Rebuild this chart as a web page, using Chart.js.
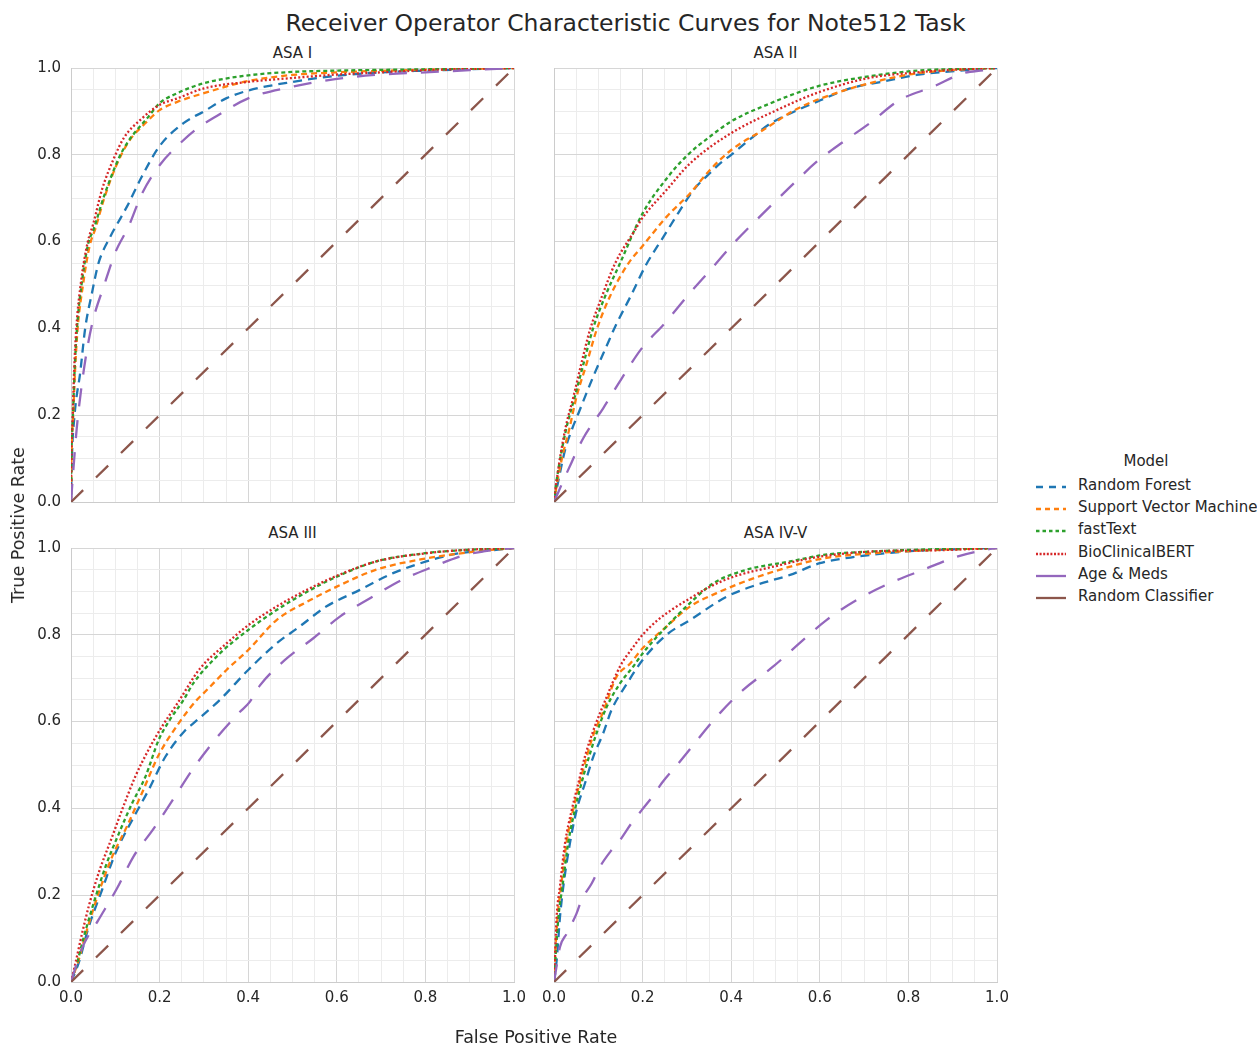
<!DOCTYPE html>
<html>
<head>
<meta charset="utf-8">
<script src="https://cdn.jsdelivr.net/npm/chart.js@4.4.1/dist/chart.umd.min.js"></script>
<style>
  body { margin: 0; background: #fff; font-family: "DejaVu Sans", sans-serif; color: #262626; }
  #fig { position: relative; width: 1257px; height: 1046px; overflow: hidden; }
  canvas { position: absolute; }
  .txt { position: absolute; white-space: nowrap; }
  #suptitle { left: 0; width: 1251px; top: 9px; text-align: center; font-size: 23.5px; }
  .sub { font-size: 15px; width: 443px; text-align: center; }
  #xlabel { left: 336px; width: 400px; top: 1027px; text-align: center; font-size: 17.5px; }
  #ylabel { left: 18px; top: 525px; font-size: 17.5px; transform: translate(-50%, -50%) rotate(-90deg); }
  #legend { position: absolute; left: 1030px; top: 452px; font-size: 15px; white-space: nowrap; }
  #legend .ttl { position: absolute; left: 86px; top: 0; width: 60px; text-align: center; }
  #legend .row { position: absolute; left: 0; height: 22px; width: 230px; }
  #legend svg { position: absolute; left: 4px; top: 4px; }
  #legend .lab { position: absolute; left: 48px; top: 0px; white-space: nowrap; }
</style>
</head>
<body>
<div id="fig">
  <div id="suptitle" class="txt">Receiver Operator Characteristic Curves for Note512 Task</div>
  <div class="txt sub" style="left:71px;top:44px">ASA I</div>
  <div class="txt sub" style="left:554px;top:44px">ASA II</div>
  <div class="txt sub" style="left:71px;top:524px">ASA III</div>
  <div class="txt sub" style="left:554px;top:524px">ASA IV-V</div>
  <canvas id="c1" width="530" height="490" style="left:0px;top:40px"></canvas>
  <canvas id="c2" width="490" height="490" style="left:530px;top:40px"></canvas>
  <canvas id="c3" width="530" height="526" style="left:0px;top:520px"></canvas>
  <canvas id="c4" width="490" height="526" style="left:530px;top:520px"></canvas>
  <div id="xlabel" class="txt">False Positive Rate</div>
  <div id="ylabel" class="txt">True Positive Rate</div>
  <div id="legend"></div>
</div>
<script>
// models, in legend order
const models = ['Random Forest', 'Support Vector Machine', 'fastText', 'BioClinicalBERT', 'Age & Meds', 'Random Classifier'];
const colors = ['#1f77b4', '#ff7f0e', '#2ca02c', '#d62728', '#9467bd', '#8c564b'];
const dashes = [[9, 6], [6, 4], [4, 3], [2, 2.2], [18, 14], [17, 18]];

// diagonal reference
const chanceFpr = [0, 1];
const chanceTpr = [0, 1];

// ASA I
const asa1RfFpr = [0, 0.002, 0.008, 0.021, 0.032, 0.047, 0.062, 0.088, 0.126, 0.16, 0.2, 0.254, 0.3, 0.35, 0.4, 0.5, 0.6, 0.7, 0.8, 0.9, 1];
const asa1RfTpr = [0, 0.1, 0.2, 0.3, 0.4, 0.48, 0.55, 0.61, 0.68, 0.75, 0.82, 0.873, 0.9, 0.93, 0.948, 0.968, 0.982, 0.99, 0.994, 0.997, 1];
const asa1SvmFpr = [0, 0.001, 0.005, 0.009, 0.015, 0.027, 0.042, 0.055, 0.075, 0.1, 0.13, 0.17, 0.2, 0.24, 0.3, 0.4, 0.5, 0.6, 0.8, 1];
const asa1SvmTpr = [0, 0.1, 0.2, 0.3, 0.4, 0.5, 0.59, 0.63, 0.7, 0.77, 0.83, 0.875, 0.903, 0.922, 0.942, 0.97, 0.984, 0.99, 0.996, 1];
const asa1FtFpr = [0, 0.001, 0.0045, 0.008, 0.0135, 0.025, 0.04, 0.05, 0.073, 0.107, 0.126, 0.175, 0.2, 0.24, 0.3, 0.4, 0.5, 0.6, 0.8, 1];
const asa1FtTpr = [0, 0.1, 0.2, 0.3, 0.4, 0.51, 0.6, 0.625, 0.7, 0.79, 0.826, 0.888, 0.919, 0.942, 0.965, 0.983, 0.991, 0.994, 0.997, 1];
const asa1BertFpr = [0, 0.001, 0.004, 0.007, 0.012, 0.023, 0.038, 0.05, 0.07, 0.096, 0.12, 0.156, 0.2, 0.24, 0.3, 0.4, 0.5, 0.6, 0.7, 0.8, 1];
const asa1BertTpr = [0, 0.1, 0.2, 0.3, 0.4, 0.51, 0.6, 0.64, 0.72, 0.79, 0.84, 0.88, 0.915, 0.93, 0.953, 0.968, 0.977, 0.985, 0.99, 0.995, 1];
const asa1AgeFpr = [0, 0.005, 0.013, 0.023, 0.036, 0.05, 0.075, 0.1, 0.13, 0.16, 0.2, 0.25, 0.28, 0.33, 0.4, 0.5, 0.6, 0.7, 0.8, 0.9, 1];
const asa1AgeTpr = [0, 0.07, 0.17, 0.26, 0.35, 0.42, 0.5, 0.575, 0.635, 0.71, 0.776, 0.83, 0.857, 0.89, 0.93, 0.957, 0.975, 0.985, 0.99, 0.995, 1];

// ASA II
const asa2RfFpr = [0, 0.01, 0.025, 0.04, 0.055, 0.089, 0.119, 0.138, 0.174, 0.207, 0.247, 0.275, 0.298, 0.32, 0.346, 0.375, 0.4, 0.45, 0.49, 0.55, 0.6, 0.668, 0.744, 0.819, 0.93, 1];
const asa2RfTpr = [0, 0.05, 0.12, 0.166, 0.204, 0.29, 0.36, 0.404, 0.476, 0.545, 0.611, 0.657, 0.694, 0.725, 0.752, 0.78, 0.8, 0.842, 0.873, 0.903, 0.925, 0.953, 0.969, 0.984, 0.995, 1];
const asa2SvmFpr = [0, 0.008, 0.02, 0.034, 0.051, 0.074, 0.096, 0.126, 0.168, 0.2, 0.254, 0.307, 0.352, 0.4, 0.472, 0.547, 0.63, 0.744, 0.82, 0.93, 1];
const asa2SvmTpr = [0, 0.05, 0.11, 0.166, 0.243, 0.32, 0.396, 0.473, 0.55, 0.59, 0.657, 0.711, 0.765, 0.811, 0.857, 0.905, 0.94, 0.973, 0.988, 0.997, 1];
const asa2FtFpr = [0, 0.006, 0.027, 0.047, 0.067, 0.087, 0.115, 0.149, 0.2, 0.254, 0.3, 0.352, 0.4, 0.48, 0.592, 0.706, 0.82, 0.92, 1];
const asa2FtTpr = [0, 0.05, 0.166, 0.243, 0.32, 0.396, 0.473, 0.55, 0.665, 0.745, 0.798, 0.842, 0.877, 0.915, 0.957, 0.98, 0.994, 0.998, 1];
const asa2BertFpr = [0, 0.006, 0.025, 0.044, 0.062, 0.081, 0.108, 0.138, 0.183, 0.2, 0.254, 0.307, 0.4, 0.503, 0.592, 0.706, 0.82, 0.92, 1];
const asa2BertTpr = [0, 0.05, 0.166, 0.243, 0.32, 0.396, 0.473, 0.55, 0.627, 0.655, 0.719, 0.78, 0.85, 0.903, 0.942, 0.976, 0.99, 0.997, 1];
const asa2AgeFpr = [0, 0.032, 0.066, 0.111, 0.153, 0.198, 0.25, 0.303, 0.356, 0.409, 0.464, 0.533, 0.593, 0.653, 0.713, 0.78, 0.856, 0.924, 0.97, 1];
const asa2AgeTpr = [0, 0.074, 0.147, 0.216, 0.285, 0.354, 0.412, 0.477, 0.538, 0.6, 0.657, 0.726, 0.784, 0.83, 0.873, 0.926, 0.957, 0.988, 0.995, 1];

// ASA III
const asa3RfFpr = [0, 0.017, 0.04, 0.07, 0.1, 0.138, 0.175, 0.213, 0.258, 0.276, 0.336, 0.4, 0.464, 0.516, 0.576, 0.651, 0.727, 0.802, 0.877, 0.952, 1];
const asa3RfTpr = [0, 0.043, 0.127, 0.212, 0.296, 0.373, 0.442, 0.519, 0.58, 0.596, 0.65, 0.719, 0.78, 0.819, 0.865, 0.903, 0.942, 0.969, 0.988, 0.995, 1];
const asa3SvmFpr = [0, 0.017, 0.036, 0.062, 0.093, 0.126, 0.16, 0.198, 0.243, 0.284, 0.299, 0.351, 0.4, 0.464, 0.54, 0.6, 0.689, 0.802, 0.915, 1];
const asa3SvmTpr = [0, 0.05, 0.12, 0.204, 0.289, 0.358, 0.435, 0.523, 0.596, 0.65, 0.665, 0.719, 0.765, 0.834, 0.88, 0.911, 0.95, 0.976, 0.992, 1];
const asa3FtFpr = [0, 0.0135, 0.029, 0.051, 0.078, 0.108, 0.138, 0.168, 0.198, 0.223, 0.254, 0.276, 0.336, 0.4, 0.464, 0.54, 0.6, 0.689, 0.8, 0.9, 1];
const asa3FtTpr = [0, 0.043, 0.104, 0.181, 0.266, 0.342, 0.412, 0.473, 0.558, 0.604, 0.65, 0.688, 0.757, 0.811, 0.857, 0.903, 0.934, 0.969, 0.988, 0.996, 1];
const asa3BertFpr = [0, 0.01, 0.025, 0.04, 0.062, 0.093, 0.115, 0.145, 0.175, 0.205, 0.239, 0.291, 0.351, 0.4, 0.464, 0.539, 0.6, 0.689, 0.802, 0.915, 1];
const asa3BertTpr = [0, 0.043, 0.112, 0.174, 0.25, 0.335, 0.396, 0.473, 0.535, 0.588, 0.64, 0.722, 0.78, 0.822, 0.865, 0.907, 0.936, 0.969, 0.988, 0.997, 1];
const asa3AgeFpr = [0, 0.025, 0.062, 0.104, 0.141, 0.187, 0.232, 0.276, 0.325, 0.378, 0.404, 0.427, 0.483, 0.547, 0.607, 0.675, 0.746, 0.818, 0.889, 0.931, 1];
const asa3AgeTpr = [0, 0.078, 0.143, 0.216, 0.289, 0.354, 0.423, 0.492, 0.558, 0.619, 0.646, 0.684, 0.742, 0.792, 0.842, 0.884, 0.926, 0.957, 0.984, 0.992, 1];

// ASA IV-V
const asa4RfFpr = [0, 0.006, 0.0135, 0.021, 0.036, 0.051, 0.07, 0.089, 0.111, 0.13, 0.165, 0.2, 0.254, 0.307, 0.39, 0.457, 0.533, 0.6, 0.683, 0.795, 0.9, 1];
const asa4RfTpr = [0, 0.05, 0.15, 0.22, 0.32, 0.396, 0.458, 0.52, 0.573, 0.627, 0.688, 0.742, 0.8, 0.834, 0.888, 0.915, 0.938, 0.965, 0.98, 0.992, 0.997, 1];
const asa4SvmFpr = [0, 0.002, 0.008, 0.016, 0.028, 0.043, 0.058, 0.074, 0.09, 0.11, 0.141, 0.172, 0.2, 0.254, 0.307, 0.367, 0.45, 0.533, 0.608, 0.72, 0.85, 1];
const asa4SvmTpr = [0, 0.05, 0.15, 0.22, 0.32, 0.396, 0.458, 0.52, 0.573, 0.62, 0.703, 0.734, 0.769, 0.819, 0.865, 0.896, 0.93, 0.957, 0.976, 0.988, 0.995, 1];
const asa4FtFpr = [0, 0.003, 0.01, 0.019, 0.032, 0.047, 0.062, 0.077, 0.096, 0.119, 0.149, 0.179, 0.2, 0.254, 0.307, 0.36, 0.435, 0.533, 0.608, 0.72, 0.85, 1];
const asa4FtTpr = [0, 0.05, 0.15, 0.22, 0.32, 0.396, 0.458, 0.512, 0.573, 0.634, 0.688, 0.727, 0.757, 0.819, 0.873, 0.919, 0.95, 0.969, 0.984, 0.992, 0.997, 1];
const asa4BertFpr = [0, 0.002, 0.006, 0.0135, 0.025, 0.04, 0.055, 0.07, 0.089, 0.119, 0.149, 0.179, 0.2, 0.232, 0.269, 0.307, 0.345, 0.4, 0.495, 0.6, 0.72, 0.87, 1];
const asa4BertTpr = [0, 0.05, 0.15, 0.22, 0.32, 0.396, 0.458, 0.52, 0.58, 0.657, 0.727, 0.772, 0.8, 0.832, 0.86, 0.884, 0.907, 0.932, 0.957, 0.98, 0.992, 0.995, 1];
const asa4AgeFpr = [0, 0.002, 0.0135, 0.029, 0.051, 0.062, 0.085, 0.104, 0.13, 0.149, 0.175, 0.198, 0.228, 0.243, 0.281, 0.374, 0.427, 0.495, 0.562, 0.615, 0.683, 0.758, 0.834, 0.909, 0.969, 1];
const asa4AgeTpr = [0, 0.012, 0.081, 0.112, 0.158, 0.189, 0.227, 0.266, 0.304, 0.327, 0.366, 0.396, 0.435, 0.458, 0.504, 0.619, 0.673, 0.727, 0.788, 0.834, 0.88, 0.919, 0.95, 0.98, 0.995, 1];

const FONT = '"DejaVu Sans", sans-serif';
const TEXT = '#262626';

function pts(xs, ys) {
  return xs.map((x, i) => ({ x: x, y: ys[i] }));
}

function isMajor(v) {
  return Math.round(v * 100) % 20 === 0;
}

// one subplot; xh / yw fix the axis box sizes so the plot areas line up
function makePanel(id, curves, showX, showY, xh, yw, padRight) {
  const datasets = curves.map((c, i) => ({
    label: models[i],
    data: pts(c[0], c[1]),
    borderColor: colors[i],
    borderWidth: 2.3,
    borderDash: dashes[i],
    borderCapStyle: 'butt',
    pointRadius: 0,
    fill: false,
    cubicInterpolationMode: i === 5 ? 'default' : 'monotone',
    order: 6 - i
  }));
  const gridColor = ctx => (ctx.tick && isMajor(ctx.tick.value)) ? '#d6d6d6' : '#ececec';
  const tickCb = v => isMajor(v) ? Number(v).toFixed(1) : '';
  new Chart(document.getElementById(id), {
    type: 'line',
    data: { datasets: datasets },
    options: {
      responsive: false,
      animation: false,
      devicePixelRatio: 1,
      layout: { padding: { top: 28, right: padRight, bottom: 0, left: 0 } },
      plugins: {
        legend: { display: false },
        tooltip: { enabled: false }
      },
      scales: {
        x: {
          type: 'linear', min: 0, max: 1,
          ticks: { stepSize: 0.05, autoSkip: false, maxRotation: 0, display: showX, callback: tickCb,
                   padding: 7, color: TEXT, font: { family: FONT, size: 15 } },
          grid: { color: gridColor, drawTicks: false, lineWidth: 1 },
          border: { color: '#cccccc' },
          afterFit: s => { s.height = xh; s.paddingLeft = 0; s.paddingRight = 0; }
        },
        y: {
          type: 'linear', min: 0, max: 1,
          ticks: { stepSize: 0.05, autoSkip: false, display: showY, callback: tickCb,
                   padding: 10, color: TEXT, font: { family: FONT, size: 15 } },
          grid: { color: gridColor, drawTicks: false, lineWidth: 1 },
          border: { color: '#cccccc' },
          afterFit: s => { s.width = yw; s.paddingTop = 0; s.paddingBottom = 0; }
        }
      }
    }
  });
}

makePanel('c1', [
  [asa1RfFpr, asa1RfTpr], [asa1SvmFpr, asa1SvmTpr], [asa1FtFpr, asa1FtTpr],
  [asa1BertFpr, asa1BertTpr], [asa1AgeFpr, asa1AgeTpr], [chanceFpr, chanceTpr]
], false, true, 28, 71, 16);

makePanel('c2', [
  [asa2RfFpr, asa2RfTpr], [asa2SvmFpr, asa2SvmTpr], [asa2FtFpr, asa2FtTpr],
  [asa2BertFpr, asa2BertTpr], [asa2AgeFpr, asa2AgeTpr], [chanceFpr, chanceTpr]
], false, false, 28, 24, 23);

makePanel('c3', [
  [asa3RfFpr, asa3RfTpr], [asa3SvmFpr, asa3SvmTpr], [asa3FtFpr, asa3FtTpr],
  [asa3BertFpr, asa3BertTpr], [asa3AgeFpr, asa3AgeTpr], [chanceFpr, chanceTpr]
], true, true, 64, 71, 16);

makePanel('c4', [
  [asa4RfFpr, asa4RfTpr], [asa4SvmFpr, asa4SvmTpr], [asa4FtFpr, asa4FtTpr],
  [asa4BertFpr, asa4BertTpr], [asa4AgeFpr, asa4AgeTpr], [chanceFpr, chanceTpr]
], true, false, 64, 24, 23);

// legend on the right, outside the grid (dashed samples, solid for the long-dash ones)
const legend = document.getElementById('legend');
legend.innerHTML = '<div class="ttl">Model</div>';
const legendDash = ['7,6', '5,4', '3.5,3', '2,1.6', '', ''];
models.forEach((m, i) => {
  const row = document.createElement('div');
  row.className = 'row';
  row.style.top = (24 + 22.2 * i) + 'px';
  row.innerHTML = '<svg width="34" height="14"><line x1="2" y1="7" x2="32" y2="7" stroke="' + colors[i] +
    '" stroke-width="2.3"' + (legendDash[i] ? ' stroke-dasharray="' + legendDash[i] + '"' : '') + '/></svg>' +
    '<span class="lab">' + m.replace('&', '&amp;') + '</span>';
  legend.appendChild(row);
});
</script>
</body>
</html>
